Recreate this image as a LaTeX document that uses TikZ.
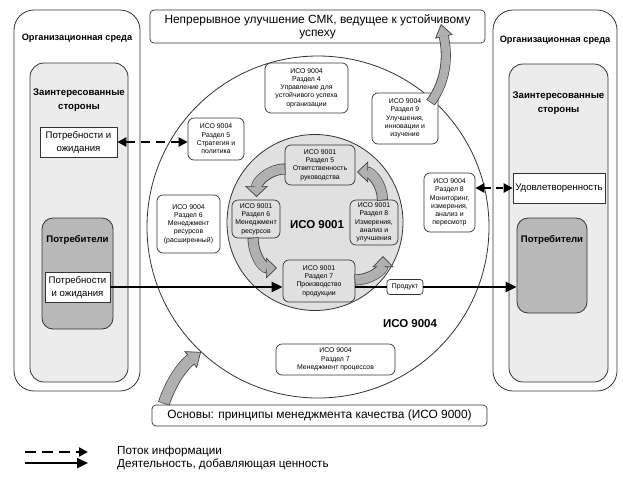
\documentclass[tikz,border=0pt]{standalone}
\usepackage{fontspec}
\setmainfont{Liberation Sans}
\usepackage{tikz}
\usetikzlibrary{arrows.meta}
\tikzstyle{line} = [draw, line width=2.4pt, color=black, -{Triangle[length=11pt,width=10pt]}]
\tikzstyle{dline} = [draw, line width=2.4pt, color=black, dash pattern=on 9pt off 6pt,
  {Triangle[length=9pt,width=9pt]}-{Triangle[length=9pt,width=9pt]}]
\definecolor{mygrayi}{RGB}{236,236,236}
\definecolor{mygrayii}{RGB}{224,224,224}
\definecolor{mygrayiii}{RGB}{184,184,184}
\definecolor{myarrow}{RGB}{176,176,176}
\newcommand{\grayarrow}[4][10]{%
  \draw[line width=#2pt, draw=black!75, shorten >=#1pt-1.5pt, shorten <=-0.7pt] #4;
  \draw[line width=0.7pt, draw=black!75, -{Triangle[length=#1pt,width=#3pt,fill=myarrow]}] #4;
  \draw[line width=#2pt-1.5pt, draw=myarrow, shorten >=#1pt-0.9pt] #4;
}

\begin{document}
\begin{tikzpicture}[x=1pt,y=-1pt,
orgb/.style={draw=black!80, line width=0.8pt, rounded corners=20pt, fill=white},
stakeb/.style={draw=black!80, line width=0.8pt, rounded corners=14pt, fill=mygrayi},
consb/.style={draw=black!80, line width=0.8pt, rounded corners=11pt, fill=mygrayiii},
needb/.style={draw=black!80, line width=0.7pt, fill=white, align=center,
  font=\fontsize{9.6}{13}\selectfont, inner sep=0pt},
isob/.style={draw=black!80, line width=0.7pt, fill=white, rounded corners=6pt,
  align=center, font=\fontsize{6.9}{8.3}\selectfont, inner sep=0pt},
qmsb/.style={isob, fill=mygrayii},
titleb/.style={draw=black!80, line width=0.7pt, rounded corners=4pt, fill=white,
  align=center, font=\fontsize{11.9}{13}\selectfont, inner sep=0pt},
headt/.style={align=center, font=\bfseries\fontsize{9.2}{14}\selectfont},
bigt/.style={align=center, font=\bfseries\fontsize{9.6}{14}\selectfont},
]
\useasboundingbox (0,0) rectangle (623,477);

\node[orgb, minimum width=126, minimum height=381] (lorg) at (77,200.5) {};
\node[headt] (lorgt) at (77,38) {Организационная среда};
\node[stakeb, minimum width=98, minimum height=319] (lstake) at (79,222.5) {};
\node[bigt] (lstaket) at (79,100) {Заинтересованные\\стороны};
\node[needb, minimum width=77, minimum height=30] (lwish) at (78.5,142) {Потребности и\\ожидания};
\node[consb, minimum width=71, minimum height=111] (lcons) at (77.5,273.5) {};
\node[bigt] (lconst) at (77.5,240) {Потребители};
\node[needb, minimum width=65, minimum height=30] (lneeds) at (77.5,287) {Потребности\\и ожидания};

\node[orgb, minimum width=124, minimum height=381] (rorg) at (555,200.5) {};
\node[headt] (rorgt) at (555,40) {Организационная среда};
\node[stakeb, minimum width=99, minimum height=318] (rstake) at (558.5,223) {};
\node[bigt] (rstaket) at (558.5,103) {Заинтересованные\\стороны};
\node[needb, minimum width=92, minimum height=30] (rsat) at (559,188) {Удовлетворенность};
\node[consb, minimum width=70, minimum height=95] (rcons) at (552,265.5) {};
\node[bigt] (rconst) at (552,240) {Потребители};

\node[titleb, minimum width=335, minimum height=33] (top) at (317.5,26.5) {Непрерывное улучшение СМК, ведущее к устойчивому\\успеху};
\node[titleb, minimum width=335, minimum height=21] (base) at (319.5,415.5) {Основы: принципы менеджмента качества (ИСО 9000)};

\node[circle, draw=black!80, line width=0.8pt, fill=white, minimum size=342, inner sep=0pt] (c94) at (318,227) {};
\node[circle, draw=black!80, line width=0.8pt, fill=mygrayii, minimum size=176, inner sep=0pt] (c91) at (315,222.5) {};
\node[font=\bfseries\fontsize{11.5}{13}\selectfont] (c91t) at (317,225) {ИСО 9001};
\node[font=\bfseries\fontsize{11.5}{13}\selectfont] (c94t) at (410,324) {ИСО 9004};

\node[isob, minimum width=83, minimum height=50] (s4) at (306.5,88) {ИСО 9004\\Раздел 4\\Управление для\\устойчивого успеха\\организации};
\node[isob, minimum width=66, minimum height=51] (s9) at (405,118.5) {ИСО 9004\\Раздел 9\\Улучшения,\\инновации и\\изучение};
\node[isob, minimum width=56, minimum height=42] (s5) at (216,139) {ИСО 9004\\Раздел 5\\Стратегия и\\политика};
\node[isob, minimum width=63, minimum height=58] (s6) at (188.5,224) {ИСО 9004\\Раздел 6\\Менеджмент\\ресурсов\\(расширенный)};
\node[isob, minimum width=51, minimum height=59] (s8) at (449.5,202.5) {ИСО 9004\\Раздел 8\\Мониторинг,\\измерения,\\анализ и\\пересмотр};
\node[isob, minimum width=119, minimum height=31] (s7) at (335.5,359.5) {ИСО 9004\\Раздел 7\\Менеджмент процессов};

\node[qmsb, minimum width=70, minimum height=40] (q5) at (320,165) {ИСО 9001\\Раздел 5\\Ответственность\\руководства};
\node[qmsb, minimum width=48, minimum height=38] (q6) at (256,219) {ИСО 9001\\Раздел 6\\Менеджмент\\ресурсов};
\node[qmsb, minimum width=48, minimum height=45] (q8) at (374,222.5) {ИСО 9001\\Раздел 8\\Измерения,\\анализ и\\улучшения};
\node[qmsb, minimum width=72, minimum height=42] (q7) at (319,281) {ИСО 9001\\Раздел 7\\Производство\\продукции};

\grayarrow[11]{11}{23}{(q5.west |- 0,169) to[out=180,in=90] (256.5,197)}
\grayarrow[11]{11}{21}{(q6.south -| 253,0) to[out=270,in=180] (277,268)}
\grayarrow[11]{11}{21}{(q7.east |- 0,280) to[out=0,in=270] (383,256)}
\grayarrow[11]{11}{21}{(q8.north -| 382.5,0) to[out=90,in=0] (357,172)}
\grayarrow[13]{10}{18}{(431,102) .. controls (447,80) and (448,55) .. (441,24)}
\grayarrow[13]{12}{21}{(164,403) .. controls (171,382) and (182,366) .. (201,352)}

\draw[line] (lneeds.east) -- (lneeds.east -| q7.west);
\node[isob, rounded corners=3pt, minimum width=36, minimum height=15] (prod) at (405,287) {Продукт};
\draw[draw, line width=2.4pt] (q7.east |- prod) -- (prod.west);
\draw[line] (prod.east) -- (prod.east -| rcons.west);
\draw[dline] (lwish.east) -- (lwish.east -| s5.west);
\draw[dline, dash pattern=on 7pt off 5pt] (rsat.west -| s8.east) -- (rsat.west);

\coordinate (lga) at (25,452);
\coordinate (lgb) at (88,452);
\coordinate (lgc) at (25,463);
\coordinate (lgd) at (88,463);
\draw[dline, dash pattern=on 11pt off 6pt, {-Triangle[length=9pt,width=9pt]}] (lga) -- (lgb);
\draw[line] (lgc) -- (lgd);
\node[anchor=west, font=\fontsize{11.7}{12}\selectfont, inner sep=0pt] (lgt1) at (117,451) {Поток информации};
\node[anchor=west, font=\fontsize{11.7}{12}\selectfont, inner sep=0pt] (lgt2) at (117,464) {Деятельность, добавляющая ценность};
\end{tikzpicture}
\end{document}
